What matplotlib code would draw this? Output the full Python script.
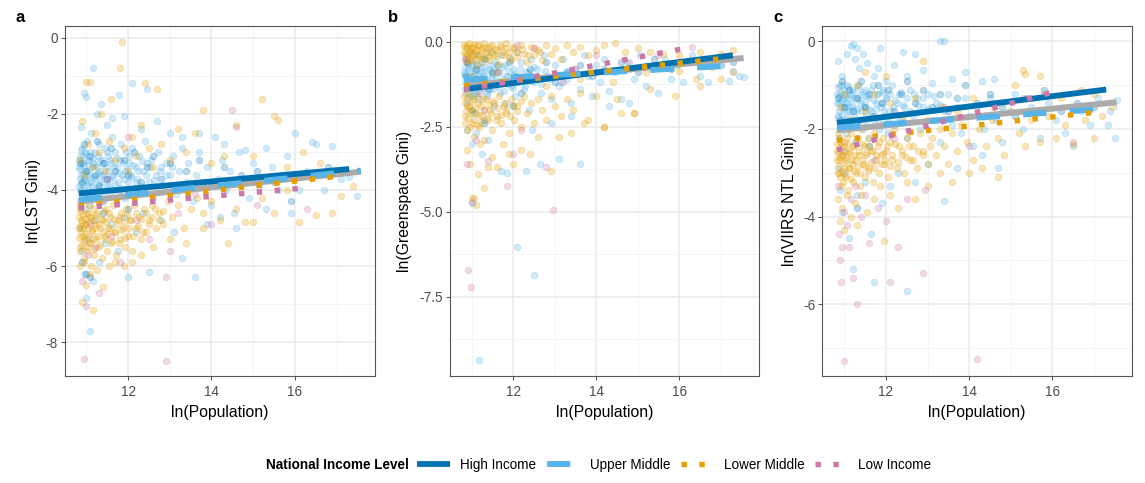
import matplotlib
matplotlib.use("Agg")
import matplotlib.pyplot as plt
from matplotlib.lines import Line2D
from matplotlib.ticker import FixedLocator

plt.rcParams['font.family'] = ['Liberation Sans', 'DejaVu Sans']
plt.rcParams['axes.unicode_minus'] = False

# ---------------- data ----------------
GROUPS = ["High Income", "Upper Middle", "Lower Middle", "Low Income"]
COLORS = ["#0072B2", "#56B4E9", "#E69F00", "#CC79A7"]
OVERALL_COLOR = "#ABABAB"
PANEL_LABELS = ["a", "b", "c"]
Y_TITLES = ["ln(LST Gini)", "ln(Greenspace Gini)", "ln(VIIRS NTL Gini)"]
X_TITLE = "ln(Population)"
X_TICKS = [12, 14, 16]
A_YTICKS = [-8, -6, -4, -2, 0]
B_YTICKS = [-7.5, -5.0, -2.5, 0.0]
C_YTICKS = [-6, -4, -2, 0]
B_YTICKLABELS = ["-7.5", "-5.0", "-2.5", "0.0"]

# regression fits per group (High, Upper, Lower, Low): x start, x end, y start, y end
A_FIT_X0 = [10.82, 10.82, 10.82, 10.82]
A_FIT_X1 = [17.30, 17.58, 17.10, 16.30]
A_FIT_Y0 = [-4.09, -4.26, -4.42, -4.48]
A_FIT_Y1 = [-3.45, -3.49, -3.63, -3.94]
A_ALL = [10.82, 17.58, -4.30, -3.52]

B_FIT_X0 = [10.82, 10.82, 10.82, 10.82]
B_FIT_X1 = [17.29, 17.55, 17.11, 16.22]
B_FIT_Y0 = [-1.40, -1.12, -1.30, -1.42]
B_FIT_Y1 = [-0.40, -0.69, -0.49, -0.18]
B_ALL = [10.82, 17.55, -1.30, -0.48]

C_FIT_X0 = [10.82, 10.82, 10.82, 10.82]
C_FIT_X1 = [17.30, 17.55, 17.13, 16.13]
C_FIT_Y0 = [-1.86, -1.97, -2.26, -2.48]
C_FIT_Y1 = [-1.10, -1.52, -1.61, -1.13]
C_ALL = [10.82, 17.55, -2.03, -1.39]

# ---------------- scatter points ----------------
A_UPPER = [(10.82,-3.4),(10.83,-3.9),(10.85,-3.1),(10.86,-4.3),(10.88,-3.6),(10.9,-2.9),(10.9,-4.0),(10.92,-3.3),(10.95,-3.7),(10.96,-4.5),
(10.98,-3.0),(11.0,-3.5),(11.0,-4.1),(11.02,-2.7),(11.05,-3.8),(11.06,-3.2),(11.08,-4.4),(11.1,-3.6),(11.12,-2.5),(11.14,-3.9),
(11.15,-3.3),(11.18,-4.2),(11.2,-3.0),(11.22,-3.7),(11.25,-3.4),(11.28,-4.0),(11.3,-2.8),(11.32,-3.5),(11.35,-3.8),(11.38,-3.2),
(11.4,-4.3),(11.42,-3.6),(11.45,-2.9),(11.48,-3.4),(11.5,-3.9),(11.52,-3.1),(11.55,-3.7),(11.58,-4.1),(11.6,-3.3),(11.62,-2.6),
(11.65,-3.6),(11.68,-3.0),(11.7,-4.0),(11.73,-3.4),(11.76,-3.8),(11.8,-3.2),(11.83,-2.8),(11.86,-3.6),(11.9,-4.2),(11.93,-3.5),
(11.96,-3.0),(12.0,-3.8),(12.03,-3.3),(12.06,-3.6),(12.1,-2.9),(12.14,-4.0),(12.18,-3.4),(12.22,-3.7),(12.26,-3.1),(12.3,-3.9),
(12.35,-3.5),(12.4,-2.7),(12.45,-3.3),(12.5,-3.8),(12.55,-3.2),(12.6,-4.2),(12.66,-3.6),(12.72,-3.0),(12.8,-3.4),(12.86,-3.9),
(12.92,-3.3),(13.0,-3.6),(13.08,-3.1),(13.15,-4.1),(13.22,-3.5),(13.3,-2.9),(13.38,-3.8),(13.45,-3.3),(13.55,-4.3),(13.62,-3.6),
(13.7,-3.0),(13.8,-3.9),(13.9,-3.4),(14.0,-4.4),(14.08,-2.6),(14.15,-3.7),(14.25,-3.2),(14.35,-4.0),(14.45,-3.5),(14.55,-4.6),
(14.65,-3.0),(14.75,-3.8),(14.9,-4.2),(15.0,-3.3),(15.15,-3.9),(15.3,-4.5),(15.45,-3.4),(15.6,-4.0),(15.75,-3.6),(15.9,-4.6),
(16.0,-2.5),(16.1,-4.0),(16.3,-3.5),(16.5,-2.8),(16.7,-4.0),(16.9,-2.85),(17.1,-3.7),(17.3,-3.65),(17.5,-4.15),
(10.85,-5.0),(10.9,-5.6),(10.95,-6.2),(11.0,-6.85),(11.05,-5.3),(11.1,-7.7),(11.15,-6.4),(11.2,-4.8),(11.3,-5.9),(11.45,-5.4),
(11.6,-4.9),(11.75,-5.6),(11.9,-4.7),(12.0,-6.3),(12.2,-5.1),(12.35,-4.6),(12.5,-6.15),(12.8,-4.8),(13.1,-5.1),(13.3,-5.8),
(13.6,-6.3),(13.9,-4.9),(14.2,-4.7),(14.6,-5.0),
(10.88,-2.35),(10.95,-1.45),(11.0,-1.55),(11.15,-0.8),(11.25,-2.0),(11.35,-1.75),(11.5,-2.3),(11.62,-2.1),(11.78,-1.5),(11.9,-2.05),
(12.1,-1.2),(12.3,-2.4),(12.45,-1.35),(12.7,-2.2),(13.0,-2.5),(13.3,-2.6),(13.7,-2.5),(14.3,-2.8),(14.8,-2.95),(15.3,-2.9),
(15.8,-3.1),(16.4,-2.75)]

A_UPPER_CORE = [(10.83,-3.2),(10.84,-3.7),(10.85,-4.0),(10.86,-3.45),(10.87,-2.95),(10.88,-3.85),(10.89,-3.3),(10.9,-4.2),(10.91,-3.55),(10.93,-3.1),
(10.94,-3.95),(10.95,-3.35),(10.97,-3.75),(10.99,-3.05),(11.0,-4.25),(11.01,-3.6),(11.03,-3.25),(11.04,-3.9),(11.07,-3.45),(11.09,-3.0),
(11.11,-3.8),(11.13,-3.4),(11.16,-4.05),(11.17,-3.15),(11.19,-3.65),(11.21,-3.35),(11.24,-3.95),(11.27,-3.1),(11.29,-3.55),(11.31,-3.85),
(11.34,-3.25),(11.36,-3.6),(11.39,-4.1),(11.43,-3.3),(11.46,-3.7),(11.49,-3.0),(11.51,-3.5),(11.54,-3.9),(11.57,-3.2),(11.61,-3.65),
(11.66,-3.4),(11.69,-3.85),(11.74,-3.15),(11.78,-3.55),(11.82,-3.95),(11.87,-3.3),(11.91,-3.7),(11.97,-3.45),(12.02,-3.1),(12.08,-3.65),
(12.12,-3.35),(12.19,-3.8),(12.24,-3.5),(12.33,-3.25),(12.42,-3.6),(12.52,-3.4),(12.63,-3.75),(12.76,-3.5),(12.9,-3.6),(13.05,-3.4)]

A_HIGH = [(10.85,-3.3),(10.9,-3.8),(10.95,-2.8),(11.0,-3.5),(11.05,-4.1),(11.1,-3.1),(11.2,-3.6),(11.25,-2.7),(11.3,-3.9),(11.4,-3.3),
(11.5,-3.7),(11.6,-2.9),(11.7,-3.5),(11.8,-4.0),(11.9,-3.2),(12.0,-3.6),(12.15,-3.0),(12.3,-3.8),(12.45,-3.4),(12.6,-3.1),
(12.8,-3.7),(13.0,-3.3),(13.2,-3.9),(13.4,-3.5),(13.7,-3.2),(14.0,-3.8),(14.3,-3.4),(14.7,-3.6),(15.1,-3.5),(15.5,-3.8),
(15.9,-4.3),(16.4,-3.6),(16.8,-3.4),(11.0,-6.2),(11.1,-6.3),(10.9,-5.9),(12.0,-4.5),(11.4,-4.6)]

A_LOWER = [(10.82,-5.0),(10.84,-4.5),(10.86,-5.5),(10.88,-4.8),(10.9,-5.2),(10.92,-4.3),(10.94,-5.8),(10.96,-4.9),(10.98,-5.3),(11.0,-4.6),
(11.02,-5.6),(11.04,-5.0),(11.06,-4.4),(11.08,-5.4),(11.1,-4.7),(11.12,-6.0),(11.14,-5.1),(11.16,-4.5),(11.18,-5.7),(11.2,-4.9),
(11.23,-5.3),(11.26,-4.6),(11.29,-5.5),(11.32,-5.0),(11.35,-4.3),(11.38,-5.8),(11.41,-4.8),(11.44,-5.2),(11.47,-4.5),(11.5,-5.6),
(11.53,-5.0),(11.56,-4.7),(11.6,-5.4),(11.64,-4.4),(11.68,-5.1),(11.72,-5.7),(11.76,-4.8),(11.8,-5.3),(11.84,-4.6),(11.88,-5.0),
(11.92,-5.5),(11.96,-4.5),(12.0,-5.2),(12.05,-4.8),(12.1,-5.6),(12.15,-4.4),(12.2,-5.0),(12.26,-4.7),(12.32,-5.3),(12.38,-4.5),
(12.44,-5.1),(12.5,-4.8),(12.58,-4.4),(12.66,-5.0),(12.74,-4.6),(12.85,-4.9),(12.95,-4.3),(13.05,-4.7),(13.2,-4.4),(13.35,-5.0),
(13.5,-4.5),(13.65,-4.2),(13.8,-4.6),(14.0,-4.3),(14.2,-4.8),(14.4,-5.4),(14.6,-4.5),(14.8,-4.85),(15.0,-4.85),(15.2,-4.2),
(15.5,-4.6),(15.8,-4.0),(16.1,-4.85),(16.5,-4.65),(16.9,-4.6),(17.1,-4.15),(17.4,-3.9),
(10.85,-3.2),(10.9,-2.2),(10.95,-3.6),(11.0,-1.15),(11.05,-2.8),(11.1,-1.15),(11.15,-3.4),(11.2,-2.5),(11.3,-3.0),(11.35,-2.0),
(11.45,-3.5),(11.55,-2.7),(11.6,-1.6),(11.7,-3.2),(11.8,-0.8),(11.85,-0.1),(11.9,-2.9),(12.0,-3.5),(12.1,-2.6),(12.2,-3.1),
(12.3,-2.3),(12.4,-1.2),(12.5,-2.9),(12.6,-3.4),(12.7,-1.35),(12.8,-2.8),(13.0,-3.2),(13.2,-2.4),(13.4,-3.0),(13.6,-2.5),
(13.8,-1.9),(14.0,-3.3),(14.3,-3.1),(14.6,-2.3),(15.0,-3.1),(15.2,-1.6),(15.5,-2.05),(15.6,-2.15),(15.8,-3.4),(16.2,-3.0),
(16.6,-3.3),(17.0,-3.5),
(10.85,-6.0),(10.9,-6.95),(10.95,-5.9),(11.0,-6.5),(11.1,-6.2),(11.15,-7.15),(11.25,-6.1),(11.4,-6.55),(11.55,-6.0),(11.7,-5.9),
(11.9,-6.0),(12.1,-5.9),(12.3,-5.7),(12.6,-5.5),(13.0,-5.3),(13.4,-5.4),(13.8,-5.0)]

A_LOWER_CORE = [(10.82,-4.7),(10.83,-5.25),(10.84,-4.95),(10.85,-5.6),(10.86,-4.55),(10.87,-5.1),(10.89,-4.85),(10.9,-5.45),(10.91,-4.65),(10.93,-5.0),
(10.95,-5.35),(10.96,-4.75),(10.98,-5.15),(11.0,-4.9),(11.01,-5.5),(11.03,-4.6),(11.05,-5.2),(11.07,-4.85),(11.09,-5.4),(11.11,-4.7),
(11.13,-5.05),(11.15,-5.3),(11.17,-4.8),(11.19,-5.55),(11.21,-5.0),(11.24,-4.65),(11.27,-5.2),(11.3,-4.9),(11.33,-5.45),(11.36,-4.75),
(11.39,-5.1),(11.42,-4.55),(11.45,-5.3),(11.48,-4.85),(11.51,-5.15),(11.54,-4.6),(11.58,-5.0),(11.62,-5.35),(11.66,-4.75),(11.7,-5.1),
(11.74,-4.9),(11.78,-5.4),(11.82,-4.7),(11.86,-5.05),(11.9,-4.85),(11.94,-5.25),(11.98,-4.65),(12.03,-5.0),(12.08,-4.8),(12.13,-5.2),
(12.18,-4.6),(12.24,-4.95),(12.3,-4.75),(12.36,-5.1),(12.43,-4.6),(12.5,-4.9),(12.57,-4.7),(12.65,-4.5),(12.75,-4.8),(12.85,-4.55)]

A_LOW = [(10.85,-4.4),(10.9,-6.4),(10.95,-8.45),(11.0,-7.05),(11.05,-5.7),(11.1,-4.9),(11.2,-5.5),(11.3,-6.7),(11.4,-4.3),(11.5,-3.7),
(11.6,-5.2),(11.8,-5.9),(12.0,-2.6),(12.2,-4.8),(12.5,-5.3),(12.9,-8.5),(12.9,-6.3),(13.2,-4.6),(13.6,-4.1),(14.5,-1.9),
(14.0,-4.9),(15.1,-4.4),(16.3,-4.5),(14.6,-2.35),(13.0,-5.6)]

B_UPPER = [(10.82,-0.9),(10.84,-1.4),(10.86,-0.5),(10.88,-1.1),(10.9,-1.8),(10.92,-0.7),(10.94,-1.3),(10.96,-0.3),(10.98,-1.0),(11.0,-1.6),
(11.02,-0.6),(11.04,-1.2),(11.06,-2.1),(11.08,-0.8),(11.1,-1.5),(11.12,-0.4),(11.15,-1.0),(11.18,-1.7),(11.2,-0.7),(11.23,-1.3),
(11.26,-0.9),(11.29,-2.3),(11.32,-0.5),(11.35,-1.1),(11.38,-1.6),(11.41,-0.8),(11.44,-1.4),(11.47,-0.3),(11.5,-1.0),(11.53,-1.9),
(11.56,-0.6),(11.6,-1.2),(11.64,-0.9),(11.68,-1.5),(11.72,-0.4),(11.76,-1.1),(11.8,-0.7),(11.84,-1.8),(11.88,-1.0),(11.92,-0.5),
(11.96,-1.3),(12.0,-0.8),(12.05,-1.6),(12.1,-0.3),(12.15,-1.1),(12.2,-0.6),(12.26,-1.4),(12.32,-0.9),(12.38,-2.0),(12.44,-0.5),
(12.5,-1.2),(12.58,-0.8),(12.66,-1.5),(12.74,-0.4),(12.82,-1.0),(12.9,-1.7),(13.0,-0.7),(13.1,-1.3),(13.2,-0.5),(13.3,-1.1),
(13.4,-1.8),(13.5,-0.8),(13.6,-1.4),(13.7,-0.4),(13.8,-1.0),(13.9,-1.6),(14.0,-0.7),(14.1,-1.2),(14.2,-0.5),(14.3,-1.45),
(14.45,-0.9),(14.6,-1.7),(14.75,-0.6),(14.9,-1.1),(15.05,-0.4),(15.2,-1.3),(15.35,-0.8),(15.5,-1.5),(15.65,-0.5),(15.8,-1.1),
(15.95,-0.7),(16.1,-1.2),(16.3,-0.4),(16.5,-1.0),(16.7,-1.2),(16.9,-0.6),(17.2,-1.15),(17.45,-1.0),(17.55,-1.05),(17.3,-0.85),
(10.9,-2.6),(11.0,-3.0),(11.1,-2.7),(11.0,-4.75),(11.25,-3.3),(11.4,-2.9),(11.7,-3.8),(11.85,-3.85),(12.1,-6.05),(12.3,-3.8),
(12.5,-6.85),(12.65,-3.6),(12.45,-2.6),(13.1,-3.45),(13.6,-3.6),(11.18,-9.35),(12.9,-2.4),(13.4,-2.2),(14.3,-1.9),(14.8,-1.8)]

B_UPPER_CORE = [(10.83,-0.75),(10.84,-1.2),(10.85,-0.95),(10.86,-1.5),(10.87,-0.6),(10.88,-1.35),(10.9,-1.05),(10.91,-0.8),(10.93,-1.6),(10.94,-1.15),
(10.96,-0.9),(10.98,-1.4),(11.0,-0.7),(11.01,-1.25),(11.03,-1.0),(11.05,-1.55),(11.07,-0.85),(11.09,-1.3),(11.11,-1.1),(11.13,-0.65),
(11.16,-1.45),(11.18,-0.95),(11.21,-1.2),(11.24,-0.75),(11.27,-1.35),(11.3,-1.05),(11.33,-0.85),(11.36,-1.5),(11.39,-1.15),(11.42,-0.7),
(11.45,-1.25),(11.49,-0.95),(11.52,-1.4),(11.55,-0.8),(11.59,-1.1),(11.63,-1.3),(11.67,-0.9),(11.71,-1.2),(11.75,-0.75),(11.79,-1.45),
(11.83,-1.0),(11.87,-1.25),(11.91,-0.85),(11.95,-1.15),(12.0,-1.35),(12.05,-0.95),(12.1,-1.2),(12.16,-0.8),(12.22,-1.05),(12.28,-1.3),
(12.35,-0.9),(12.42,-1.15),(12.5,-0.75),(12.58,-1.0),(12.67,-1.25),(12.77,-0.85),(12.88,-1.1),(13.0,-0.95),(13.15,-1.2),(13.3,-0.85)]

B_HIGH = [(10.85,-1.0),(10.9,-0.6),(11.0,-1.3),(11.1,-0.8),(11.2,-1.1),(11.3,-0.5),(11.4,-1.4),(11.5,-0.9),(11.6,-0.7),(11.75,-1.2),
(11.9,-0.6),(12.05,-1.0),(12.2,-1.5),(12.4,-0.8),(12.6,-1.1),(12.8,-0.6),(13.0,-1.2),(13.3,-0.9),(13.6,-0.7),(13.9,-1.0),
(14.2,-0.8),(14.6,-0.6),(15.0,-0.9),(15.4,-0.5),(15.8,-0.8),(16.2,-0.6),(16.6,-0.5),(17.0,-0.7),(17.3,-0.6),(11.0,-2.0),
(11.3,-2.4),(12.0,-1.9)]

B_LOWER = [(10.82,-0.1),(10.85,-0.4),(10.88,-0.2),(10.9,-0.6),(10.93,-0.05),(10.96,-0.3),(11.0,-0.5),(11.03,-0.15),(11.06,-0.35),(11.1,-0.7),
(11.14,-0.1),(11.18,-0.45),(11.22,-0.25),(11.26,-0.6),(11.3,-0.05),(11.35,-0.35),(11.4,-0.2),(11.45,-0.55),(11.5,-0.1),(11.55,-0.4),
(11.6,-0.25),(11.66,-0.65),(11.72,-0.15),(11.78,-0.4),(11.84,-0.05),(11.9,-0.3),(11.96,-0.55),(12.02,-0.2),(12.1,-0.45),(12.18,-0.1),
(12.26,-0.35),(12.34,-0.6),(12.42,-0.15),(12.5,-0.4),(12.6,-0.25),(12.7,-0.55),(12.8,-0.1),(12.9,-0.35),(13.0,-0.2),(13.15,-0.5),
(13.3,-0.1),(13.45,-0.3),(13.6,-0.15),(13.8,-0.4),(14.0,-0.25),(14.2,-0.1),(14.45,-0.05),(14.7,-0.3),(15.0,-0.2),(15.3,-0.3),
(15.6,-0.35),(16.0,-0.4),(16.5,-0.3),(17.0,-0.35),(17.3,-0.25),
(10.82,-1.6),(10.85,-2.2),(10.88,-1.9),(10.9,-2.6),(10.93,-1.5),(10.96,-2.0),(11.0,-2.4),(11.03,-1.7),(11.06,-2.8),(11.1,-2.1),
(11.14,-1.6),(11.18,-2.5),(11.22,-1.9),(11.26,-2.2),(11.3,-2.9),(11.35,-1.7),(11.4,-2.3),(11.45,-2.0),(11.5,-2.6),(11.55,-1.8),
(11.6,-2.2),(11.66,-1.6),(11.72,-2.4),(11.78,-1.9),(11.84,-2.1),(11.9,-2.7),(11.96,-1.7),(12.02,-2.3),(12.1,-1.9),(12.18,-2.5),
(12.26,-1.6),(12.34,-2.1),(12.42,-1.8),(12.5,-2.4),(12.6,-1.7),(12.7,-2.0),(12.8,-2.3),(12.9,-1.6),(13.0,-1.9),(13.15,-2.2),
(13.3,-1.7),(13.45,-2.0),(13.6,-1.5),(13.8,-2.3),(14.0,-1.6),(14.2,-2.5),(14.5,-1.7),(14.9,-2.1),(15.3,-1.4),(15.9,-1.6),
(16.5,-1.3),(17.0,-1.1),
(11.0,-1.0),(11.3,-1.3),(11.6,-0.9),(12.0,-1.2),(12.4,-1.0),(12.8,-1.3),(13.2,-1.0),(13.6,-1.1),(14.0,-0.9),(14.4,-1.2),
(14.8,-0.8),(15.2,-0.9),(15.6,-0.7),(16.0,-0.85),(16.4,-1.1),(16.8,-0.75),(17.3,-0.9),
(10.9,-3.2),(10.95,-3.6),(11.0,-4.6),(11.05,-4.6),(11.1,-4.8),(11.15,-3.9),(11.2,-3.0),(11.3,-4.3),(11.4,-3.7),(11.5,-3.4),
(11.6,-3.7),(11.75,-3.0),(11.9,-3.3),(12.0,-3.6),(12.2,-3.2),(12.4,-3.3),(12.6,-2.8),(12.9,-3.8),(13.1,-2.8),(13.4,-2.7),
(13.7,-2.4),(14.2,-2.5),(14.6,-2.1),(14.9,-2.1)]

B_LOWER_CORE = [(10.82,-0.3),(10.84,-0.15),(10.86,-0.5),(10.88,-0.35),(10.9,-0.1),(10.92,-0.45),(10.95,-0.25),(10.97,-0.55),(11.0,-0.2),(11.02,-0.4),
(11.05,-0.08),(11.08,-0.3),(11.11,-0.5),(11.14,-0.25),(11.17,-0.1),(11.2,-0.38),(11.24,-0.2),(11.28,-0.48),(11.32,-0.15),(11.36,-0.3),
(11.4,-0.45),(11.45,-0.12),(11.5,-0.33),(11.56,-0.22),(11.62,-0.42),(11.68,-0.1),(11.75,-0.3),(11.82,-0.2),(11.9,-0.45),(12.0,-0.15),
(12.1,-0.3),(12.22,-0.22),(12.35,-0.4),(12.5,-0.18),(12.65,-0.3),
(10.83,-1.8),(10.85,-2.4),(10.87,-2.05),(10.89,-1.65),(10.92,-2.25),(10.94,-1.9),(10.97,-2.5),(11.0,-2.1),(11.02,-1.75),(11.05,-2.3),
(11.08,-1.95),(11.12,-2.45),(11.15,-1.8),(11.19,-2.15),(11.23,-2.35),(11.27,-1.7),(11.31,-2.0),(11.36,-2.25),(11.41,-1.85),(11.46,-2.1),
(11.52,-1.75),(11.58,-2.3),(11.64,-1.95),(11.7,-2.15),(11.77,-1.8),(11.84,-2.0),(11.92,-2.2),(12.0,-1.85),(12.1,-2.05),(12.2,-1.75)]

B_LOW = [(10.85,-0.5),(10.9,-3.6),(10.92,-6.7),(10.98,-7.2),(11.0,-4.7),(11.1,-2.9),(11.2,-1.5),(11.4,-3.5),(11.6,-0.9),(11.85,-4.25),
(12.0,-3.3),(12.2,-2.6),(12.5,-0.2),(12.8,-3.7),(12.95,-4.95),(13.2,-1.2),(13.5,-0.8),(14.0,-0.4),(14.8,-0.6),(15.5,-0.4),
(16.3,-0.15),(11.3,-2.0),(12.1,-0.1)]

C_UPPER = [(10.82,-1.2),(10.84,-1.7),(10.86,-2.2),(10.88,-1.4),(10.9,-1.0),(10.92,-1.9),(10.94,-1.5),(10.96,-2.5),(10.98,-1.2),(11.0,-1.8),
(11.02,-1.4),(11.04,-2.1),(11.06,-1.0),(11.08,-1.6),(11.1,-1.3),(11.12,-2.0),(11.15,-1.5),(11.18,-1.1),(11.2,-1.8),(11.23,-1.3),
(11.26,-2.3),(11.29,-1.6),(11.32,-1.0),(11.35,-1.9),(11.38,-1.4),(11.41,-1.2),(11.44,-2.0),(11.47,-1.5),(11.5,-1.1),(11.53,-1.7),
(11.56,-1.3),(11.6,-2.2),(11.64,-1.6),(11.68,-1.0),(11.72,-1.8),(11.76,-1.4),(11.8,-1.2),(11.84,-2.0),(11.88,-1.5),(11.92,-1.1),
(11.96,-1.7),(12.0,-1.3),(12.05,-2.1),(12.1,-1.6),(12.15,-1.0),(12.2,-1.9),(12.26,-1.4),(12.32,-1.2),(12.38,-1.8),(12.44,-1.5),
(12.5,-2.2),(12.58,-1.1),(12.66,-1.7),(12.74,-1.3),(12.82,-2.0),(12.9,-1.5),(13.0,-1.2),(13.1,-1.8),(13.2,-1.4),(13.3,-2.3),
(13.4,-1.6),(13.5,-1.2),(13.6,-1.9),(13.7,-1.5),(13.8,-2.1),(13.9,-1.3),(14.0,-1.7),(14.1,-2.4),(14.2,-1.5),(14.35,-2.0),
(14.5,-1.3),(14.65,-1.8),(14.8,-2.3),(14.95,-1.6),(15.1,-1.2),(15.3,-2.0),(15.5,-1.5),(15.7,-2.2),(15.9,-1.4),(16.1,-1.8),
(16.3,-2.1),(16.5,-2.4),(16.7,-1.6),(16.9,-1.9),(17.1,-1.3),(17.35,-1.9),(17.5,-2.2),(17.55,-1.35),(17.4,-1.6),
(10.85,-0.45),(10.95,-0.8),(11.05,-0.3),(11.15,-0.1),(11.2,-0.05),(11.25,-0.4),(11.3,-0.15),(11.35,-0.6),(11.45,-0.3),(11.55,-0.5),
(11.7,-0.8),(11.8,-0.6),(11.85,-0.15),(12.0,-0.9),(12.2,-0.55),(12.4,-0.25),(12.5,-0.8),(12.7,-0.3),(12.9,-0.65),(13.1,-0.95),
(13.3,0.0),(13.4,0.0),(13.6,-0.85),(13.9,-0.7),(14.3,-0.9),(14.6,-0.85),
(10.85,-2.9),(10.9,-3.4),(10.95,-3.9),(11.0,-3.0),(11.1,-4.5),(11.2,-5.2),(11.3,-3.5),(11.5,-3.2),(11.65,-4.4),(11.7,-5.5),
(11.9,-3.7),(12.1,-3.3),(12.3,-3.0),(12.5,-5.7),(12.7,-3.2),(13.0,-2.8),(13.4,-3.65),(13.7,-2.9),(14.3,-2.6),(14.7,-2.9)]

C_UPPER_CORE = [(10.83,-1.4),(10.84,-1.05),(10.85,-1.75),(10.86,-1.25),(10.87,-1.6),(10.89,-1.15),(10.9,-1.9),(10.91,-1.35),(10.93,-1.0),(10.95,-1.65),
(10.96,-1.3),(10.98,-1.85),(11.0,-1.1),(11.01,-1.5),(11.03,-1.25),(11.05,-1.75),(11.07,-1.4),(11.09,-1.05),(11.11,-1.6),(11.13,-1.2),
(11.16,-1.9),(11.18,-1.45),(11.21,-1.15),(11.24,-1.7),(11.27,-1.3),(11.3,-1.55),(11.33,-1.05),(11.36,-1.8),(11.39,-1.35),(11.42,-1.6),
(11.45,-1.15),(11.49,-1.45),(11.52,-1.9),(11.55,-1.25),(11.59,-1.55),(11.63,-1.1),(11.67,-1.7),(11.71,-1.35),(11.75,-1.55),(11.79,-1.2),
(11.83,-1.8),(11.87,-1.4),(11.91,-1.15),(11.95,-1.6),(12.0,-1.3),(12.05,-1.75),(12.1,-1.2),(12.16,-1.5),(12.22,-1.35),(12.28,-1.7),
(12.35,-1.15),(12.42,-1.45),(12.5,-1.3),(12.58,-1.6),(12.67,-1.2),(12.77,-1.45),(12.88,-1.3),(13.0,-1.55),(13.15,-1.25),(13.3,-1.45)]

C_HIGH = [(10.85,-1.3),(10.9,-1.8),(10.95,-0.9),(11.0,-1.5),(11.1,-1.1),(11.2,-1.6),(11.3,-1.3),(11.4,-0.9),(11.5,-1.5),(11.6,-1.2),
(11.7,-1.7),(11.8,-1.0),(11.9,-1.4),(12.05,-1.1),(12.2,-1.6),(12.35,-1.2),(12.5,-0.9),(12.7,-1.4),(12.9,-1.1),(13.1,-1.5),
(13.3,-1.2),(13.5,-1.6),(13.7,-1.3),(13.9,-1.0),(14.2,-1.4),(14.5,-1.2),(14.8,-1.5),(15.1,-1.7),(15.4,-1.3),(15.8,-1.1),
(16.2,-1.6),(16.6,-1.4),(17.0,-1.5),(11.3,-3.8),(11.6,-2.4)]

C_LOWER = [(10.82,-2.5),(10.84,-2.1),(10.86,-3.0),(10.88,-2.7),(10.9,-2.3),(10.92,-3.3),(10.94,-2.6),(10.96,-2.0),(10.98,-2.9),(11.0,-2.4),
(11.02,-3.1),(11.04,-2.7),(11.06,-2.2),(11.08,-3.4),(11.1,-2.5),(11.12,-2.9),(11.15,-2.1),(11.18,-2.8),(11.2,-3.2),(11.23,-2.4),
(11.26,-2.7),(11.29,-3.0),(11.32,-2.2),(11.35,-2.6),(11.38,-3.3),(11.41,-2.0),(11.44,-2.8),(11.47,-2.4),(11.5,-3.1),(11.53,-2.6),
(11.56,-2.2),(11.6,-2.9),(11.64,-2.5),(11.68,-3.2),(11.72,-2.1),(11.76,-2.7),(11.8,-2.4),(11.84,-3.0),(11.88,-2.6),(11.92,-2.2),
(11.96,-2.8),(12.0,-2.5),(12.05,-3.1),(12.1,-2.3),(12.15,-2.7),(12.2,-2.0),(12.26,-2.9),(12.32,-2.4),(12.38,-2.6),(12.44,-3.0),
(12.5,-2.2),(12.58,-2.7),(12.66,-2.4),(12.74,-2.9),(12.82,-2.1),(12.9,-2.5),(13.0,-2.8),(13.1,-2.2),(13.2,-2.6),(13.3,-2.0),
(13.4,-2.4),(13.5,-2.8),(13.6,-2.1),(13.7,-2.5),(13.8,-1.9),(13.95,-2.3),(14.1,-2.7),(14.25,-2.0),(14.4,-2.4),(14.55,-1.8),
(14.7,-2.2),(14.85,-2.6),(15.0,-1.6),(15.2,-2.1),(15.35,-2.4),(15.5,-1.8),(15.7,-2.3),(15.9,-1.7),(16.1,-2.2),(16.3,-1.9),
(16.5,-2.35),(16.8,-1.8),(17.0,-2.2),(17.2,-1.7),(17.45,-1.5),
(10.9,-1.5),(11.0,-1.2),(11.1,-1.8),(11.3,-1.0),(11.5,-1.6),(11.7,-1.2),(11.9,-1.9),(12.1,-1.4),(12.4,-1.7),(12.7,-1.3),
(13.0,-1.8),(13.35,-1.5),(13.7,-1.6),(14.1,-1.3),(14.6,-1.5),(15.1,-1.0),(15.3,-0.65),(15.35,-0.75),(15.7,-0.8),(16.2,-1.3),
(16.7,-1.1),(17.0,-1.2),(12.0,-0.8),(12.9,-0.45),(11.5,-0.7),
(10.85,-3.6),(10.9,-4.1),(10.95,-3.8),(11.0,-4.3),(11.05,-3.5),(11.15,-4.0),(11.25,-3.7),(11.3,-4.2),(11.4,-3.5),(11.55,-3.9),
(11.7,-3.6),(11.85,-3.3),(11.95,-4.55),(12.1,-3.5),(12.3,-3.8),(12.5,-3.2),(12.7,-3.6),(13.0,-3.3),(13.3,-3.0),(13.6,-3.2),
(14.0,-3.0),(14.3,-2.9),(14.7,-3.1)]

C_LOWER_CORE = [(10.82,-2.7),(10.83,-2.35),(10.84,-3.0),(10.85,-2.55),(10.86,-2.85),(10.88,-2.2),(10.89,-3.1),(10.9,-2.65),(10.92,-2.4),(10.94,-2.95),
(10.95,-2.6),(10.97,-3.2),(10.99,-2.3),(11.0,-2.75),(11.02,-2.5),(11.04,-3.05),(11.06,-2.65),(11.08,-2.35),(11.1,-2.9),(11.12,-2.55),
(11.15,-3.15),(11.17,-2.7),(11.2,-2.4),(11.23,-2.95),(11.26,-2.6),(11.29,-2.25),(11.32,-2.85),(11.35,-2.5),(11.38,-3.0),(11.42,-2.7),
(11.45,-2.35),(11.49,-2.85),(11.52,-2.55),(11.56,-2.95),(11.6,-2.4),(11.64,-2.75),(11.68,-2.5),(11.72,-2.9),(11.77,-2.6),(11.82,-2.3),
(11.87,-2.8),(11.92,-2.55),(11.97,-2.7),(12.03,-2.4),(12.09,-2.85),(12.15,-2.6),(12.22,-2.35),(12.3,-2.75),(12.38,-2.5),(12.47,-2.65),
(12.56,-2.4),(12.66,-2.7),(12.77,-2.5),(12.9,-2.6),(13.05,-2.4)]

C_LOW = [(10.85,-3.3),(10.88,-4.4),(10.9,-5.0),(10.92,-5.5),(10.95,-4.7),(10.98,-7.3),(11.0,-3.9),(11.05,-4.2),(11.1,-4.7),(11.15,-3.6),
(11.2,-5.4),(11.25,-3.3),(11.3,-6.0),(11.4,-4.0),(11.5,-3.5),(11.6,-4.6),(11.8,-3.8),(12.0,-4.1),(12.1,-5.5),(12.3,-4.7),
(12.5,-3.6),(12.9,-5.3),(12.95,-3.4),(13.4,-1.5),(14.0,-2.4),(14.2,-7.25),(15.3,-1.3),(15.8,-1.2),(16.5,-2.3),(12.2,-2.2),
(11.7,-2.7)]

PANELS = [
    dict(points=[A_HIGH, A_UPPER + A_UPPER_CORE, A_LOWER + A_LOWER_CORE, A_LOW],
         fx0=A_FIT_X0, fx1=A_FIT_X1, fy0=A_FIT_Y0, fy1=A_FIT_Y1,
         overall=A_ALL, yticks=A_YTICKS, yticklabels=[str(v) for v in A_YTICKS],
         xlim=(10.49, 17.92), ylim=(-8.89, 0.31), minor_y=[-7, -5, -3, -1]),
    dict(points=[B_HIGH, B_UPPER + B_UPPER_CORE, B_LOWER + B_LOWER_CORE, B_LOW],
         fx0=B_FIT_X0, fx1=B_FIT_X1, fy0=B_FIT_Y0, fy1=B_FIT_Y1,
         overall=B_ALL, yticks=B_YTICKS, yticklabels=B_YTICKLABELS,
         xlim=(10.48, 17.92), ylim=(-9.83, 0.46), minor_y=[-8.75, -6.25, -3.75, -1.25]),
    dict(points=[C_HIGH, C_UPPER + C_UPPER_CORE, C_LOWER + C_LOWER_CORE, C_LOW],
         fx0=C_FIT_X0, fx1=C_FIT_X1, fy0=C_FIT_Y0, fy1=C_FIT_Y1,
         overall=C_ALL, yticks=C_YTICKS, yticklabels=[str(v) for v in C_YTICKS],
         xlim=(10.46, 17.92), ylim=(-7.64, 0.35), minor_y=[-7, -5, -3, -1]),
]

# ---------------- styling ----------------
W, H = 1145, 483
LINE_STYLES = [dict(ls='-', lw=4.2), dict(ls=(0, (4, 4)), lw=4.2),
               dict(ls=(0, (1, 2.3)), lw=3.9), dict(ls=(0, (1, 2.3)), lw=3.9)]
AX_BOXES_PX = [(65, 310), (450, 309), (822, 310)]
YLABEL_RIGHT_PX = [41, 412, 797]
PANEL_LABEL_X_PX = [20, 393, 778]
SCATTER_ORDER = [1, 0, 2, 3]

fig = plt.figure(figsize=(W / 100, H / 100), dpi=100)
top_px, bot_px = 26, 376

for i, P in enumerate(PANELS):
    left, width = AX_BOXES_PX[i]
    ax = fig.add_axes([left / W, 1 - bot_px / H, width / W, (bot_px - top_px) / H])
    ax.set_facecolor('white')
    for g in SCATTER_ORDER:
        pts = P['points'][g]
        xs = [p[0] for p in pts]
        ys = [p[1] for p in pts]
        ax.scatter(xs, ys, s=22, color=COLORS[g], alpha=0.27, linewidths=0.6,
                   edgecolors=COLORS[g], zorder=2)
    ov = P['overall']
    ax.plot([ov[0], ov[1]], [ov[2], ov[3]], color=OVERALL_COLOR, lw=4.3,
            solid_capstyle='butt', zorder=3)
    for g in range(4):
        st = LINE_STYLES[g]
        ax.plot([P['fx0'][g], P['fx1'][g]], [P['fy0'][g], P['fy1'][g]], color=COLORS[g],
                lw=st['lw'], linestyle=st['ls'], solid_capstyle='butt',
                dash_capstyle='butt', zorder=4 + g)
    ax.set_xlim(*P['xlim'])
    ax.set_ylim(*P['ylim'])
    ax.xaxis.set_major_locator(FixedLocator(X_TICKS))
    ax.set_xticklabels([str(v) for v in X_TICKS])
    ax.xaxis.set_minor_locator(FixedLocator([11, 13, 15, 17]))
    ax.yaxis.set_major_locator(FixedLocator(P['yticks']))
    ax.set_yticklabels(P['yticklabels'])
    ax.yaxis.set_minor_locator(FixedLocator(P['minor_y']))
    ax.grid(which='major', color='#EBEBEB', lw=1.1, zorder=0)
    ax.grid(which='minor', color='#F2F2F2', lw=0.6, zorder=0)
    ax.set_axisbelow(True)
    ax.tick_params(which='major', length=2.75, width=0.6, color='#333333',
                   labelsize=9.8, labelcolor='#4D4D4D', pad=2.2)
    ax.tick_params(axis='x', which='major', pad=3.8)
    ax.tick_params(which='minor', length=0)
    for sp in ax.spines.values():
        sp.set_color('#555555')
        sp.set_linewidth(0.8)
    ax.set_xlabel(X_TITLE, fontsize=11.3, color='black')
    ax.xaxis.set_label_coords(0.5, -0.083)
    ax.set_ylabel(Y_TITLES[i], fontsize=11.3, color='black')
    ax.yaxis.set_label_coords((YLABEL_RIGHT_PX[i] - left) / width, 0.5)
    fig.text(PANEL_LABEL_X_PX[i] / W, 1 - 18 / H, PANEL_LABELS[i], fontsize=12,
             fontweight='bold', ha='center', va='center')

# ---------------- legend ----------------
handles = [Line2D([], [], color=COLORS[g], lw=LINE_STYLES[g]['lw'], linestyle=LINE_STYLES[g]['ls'],
                  solid_capstyle='butt', dash_capstyle='butt') for g in range(4)]
fig.text(266 / W, 1 - 465 / H, "National Income Level", fontsize=9.75, fontweight='bold',
         ha='left', va='center')
fig.legend(handles, GROUPS, loc='center left', bbox_to_anchor=(417 / W, 1 - 465 / H),
           ncol=4, frameon=False, fontsize=9.75, handlelength=2.45, handletextpad=0.72,
           columnspacing=0.8, borderpad=0, borderaxespad=0)

fig.savefig("out.png", dpi=100)
